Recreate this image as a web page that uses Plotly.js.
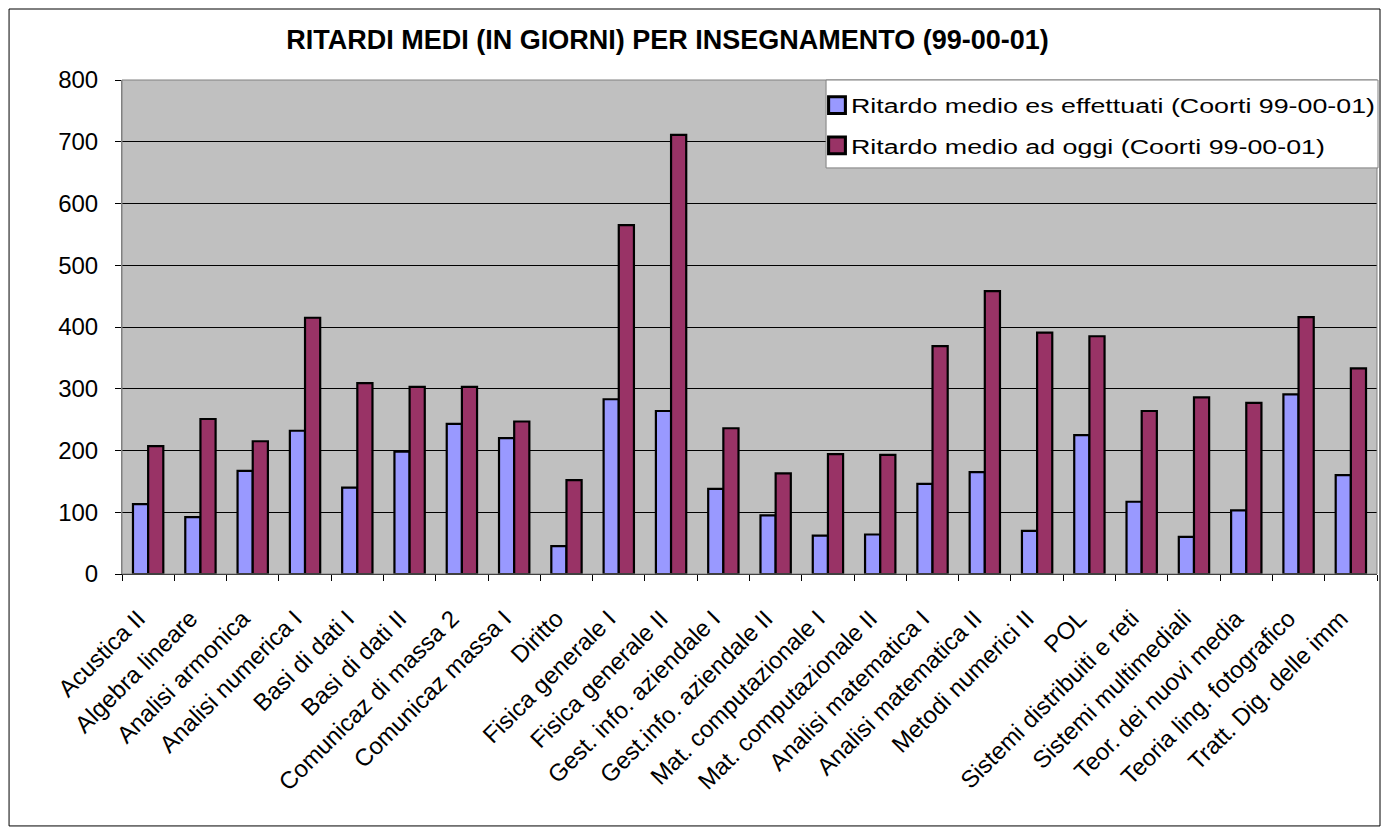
<!DOCTYPE html>
<html>
<head>
<meta charset="utf-8">
<script src="https://cdn.plot.ly/plotly-3.0.1.min.js"></script>
<style>
html,body{margin:0;padding:0;background:#fff;}
#chart{width:1382px;height:828px;}
#chart .legendtext{transform-box:fill-box;transform-origin:0 50%;transform:scaleX(1.277);}
#chart .legend .scrollbox{clip-path:none !important;}
#chart .legendpoints path{transform:translate(26px,0px) scale(1.4);}
</style>
</head>
<body>
<div id="chart"></div>
<script>
const categories = ["Acustica II","Algebra lineare","Analisi armonica","Analisi numerica I","Basi di dati I","Basi di dati II","Comunicaz di massa 2","Comunicaz massa I","Diritto","Fisica generale I","Fisica generale II","Gest. info. aziendale I","Gest.info. aziendale II","Mat. computazionale I","Mat. computazionale II","Analisi matematica I","Analisi matematica II","Metodi numerici II","POL","Sistemi distribuiti e reti","Sistemi multimediali","Teor. dei nuovi media","Teoria ling. fotografico","Tratt. Dig. delle imm"];
const ritardoEffettuati = [113,92,167,232,140,198,243,220,45,283,264,138,95,62,64,146,165,70,225,117,60,103,291,160];
const ritardoOggi = [207,251,215,415,309,303,303,247,152,565,711,236,163,194,193,369,458,391,385,264,286,277,416,333];
const seriesNames = ["Ritardo medio es effettuati (Coorti 99-00-01)","Ritardo medio ad oggi (Coorti 99-00-01)"];
const yTicks = [0,100,200,300,400,500,600,700,800];

const font = "Arial, 'Liberation Sans', sans-serif";
const traces = [
  {type:"bar", name:seriesNames[0], legendgroup:"g1", x:categories, y:ritardoEffettuati,
   marker:{color:"#9999FF", line:{color:"#000000", width:2.2}}},
  {type:"bar", name:seriesNames[1], legendgroup:"g2", x:categories, y:ritardoOggi,
   marker:{color:"#993366", line:{color:"#000000", width:2.2}}}
];
const layout = {
  width:1382, height:828,
  margin:{l:122, r:5, t:80, b:254, autoexpand:false},
  paper_bgcolor:"#ffffff", plot_bgcolor:"#C0C0C0",
  font:{family:font, size:24, color:"#000"},
  title:{text:"<b>RITARDI MEDI (IN GIORNI) PER INSEGNAMENTO (99-00-01)</b>", font:{family:font, size:27, color:"#000"},
         xref:"container", x:0.483, xanchor:"center", yref:"container", y:0.952, yanchor:"middle"},
  barmode:"group", bargap:0.42, bargroupgap:0,
  showlegend:true,
  legend:{x:0.549, y:0.99, xanchor:"left", yanchor:"top", bgcolor:"rgba(0,0,0,0)", borderwidth:0,
          font:{family:font, size:21, color:"#000"}, tracegroupgap:10, itemwidth:30},
  xaxis:{type:"category", tickangle:-45, tickson:"boundaries", ticks:"outside", ticklen:6, tickcolor:"#000",
         ticklabelstandoff:20, ticklabelshift:-10,
         showgrid:false, showline:true, linecolor:"#000", linewidth:1, tickfont:{family:font, size:24}, automargin:false},
  yaxis:{range:[0,800], tickvals:yTicks, ticktext:yTicks.map(String), ticks:"outside", ticklen:6, tickcolor:"#000",
         ticklabelstandoff:12,
         showgrid:true, gridcolor:"#000", gridwidth:1, showline:true, linecolor:"#808080", linewidth:1,
         zeroline:false, tickfont:{family:font, size:24}, automargin:false},
  shapes:[
    {type:"rect", xref:"paper", yref:"paper", x0:0, x1:1, y0:0, y1:1, line:{color:"#808080", width:1}, fillcolor:"rgba(0,0,0,0)", layer:"above"},
    {type:"rect", xref:"paper", yref:"paper", x0:0.561, x1:1.0008, y0:0.822, y1:1, line:{color:"#808080", width:1}, fillcolor:"#ffffff", layer:"above"},
    {type:"rect", xref:"paper", yref:"paper", x0:-0.0900, x1:1.0024, y0:-0.510, y1:1.1437, line:{color:"#000", width:1}, fillcolor:"rgba(0,0,0,0)"}
  ]
};
Plotly.newPlot("chart", traces, layout, {staticPlot:true});
</script>
</body>
</html>
